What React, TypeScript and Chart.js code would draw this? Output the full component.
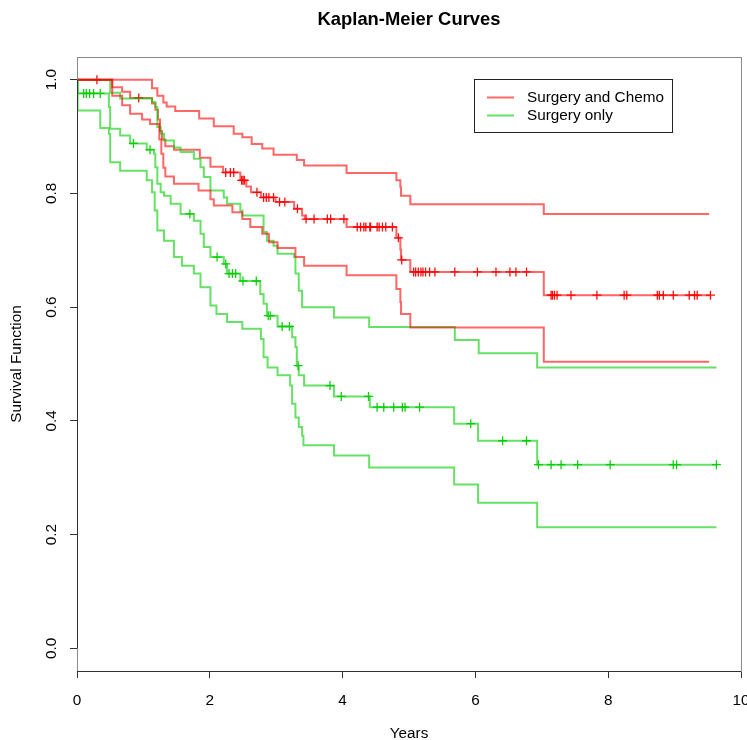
import React, { useEffect, useRef } from "react";
import { Chart, registerables } from "chart.js";

Chart.register(...registerables);

const FONT = '"Liberation Sans", Arial, Helvetica, sans-serif';

const chartTitle = "Kaplan-Meier Curves";
const xLabel = "Years";
const yLabel = "Survival Function";
const groupNames = ["Surgery and Chemo", "Surgery only"];
const xTicks = [0, 2, 4, 6, 8, 10];
const yTicks = [0, 0.2, 0.4, 0.6, 0.8, 1.0];

// ---- Surgery and Chemo ----
const chemoTimes = [0, 0.53, 0.68, 0.8, 1.13, 1.18, 1.22, 1.25, 1.28, 1.33, 1.46, 1.85, 2.01, 2.2, 2.46, 2.55, 2.62, 2.77, 2.99, 3.27, 3.39, 3.43, 4.06, 4.81, 4.87, 4.88, 5.02, 7.03];
const chemoSurv = [1, 0.987, 0.979, 0.968, 0.958, 0.947, 0.93, 0.91, 0.895, 0.883, 0.877, 0.863, 0.847, 0.837, 0.823, 0.812, 0.802, 0.793, 0.785, 0.773, 0.761, 0.755, 0.741, 0.722, 0.701, 0.683, 0.662, 0.621];
const chemoEnd = 9.54;
const chemoCensor = [0.3, 0.93, 2.24, 2.31, 2.36, 2.48, 2.5, 2.52, 2.71, 2.81, 2.85, 2.89, 2.96, 3.05, 3.13, 3.32, 3.45, 3.57, 3.77, 3.82, 4.02, 4.22, 4.27, 4.32, 4.35, 4.41, 4.42, 4.52, 4.55, 4.6, 4.65, 4.75, 4.84, 4.89, 5.07, 5.1, 5.14, 5.18, 5.21, 5.25, 5.31, 5.39, 5.69, 6.03, 6.31, 6.52, 6.61, 6.77, 7.14, 7.16, 7.19, 7.23, 7.44, 7.83, 8.24, 8.28, 8.74, 8.77, 8.83, 8.98, 9.22, 9.3, 9.34, 9.54];

const chemoUpperTimes = [0, 1.13, 1.21, 1.3, 1.35, 1.48, 1.84, 2.06, 2.36, 2.49, 2.63, 2.79, 2.96, 3.31, 3.42, 4.06, 4.81, 4.87, 4.88, 5.02, 7.03];
const chemoUpperSurv = [1, 0.985, 0.972, 0.96, 0.953, 0.945, 0.932, 0.918, 0.905, 0.899, 0.887, 0.879, 0.868, 0.859, 0.849, 0.836, 0.823, 0.811, 0.796, 0.781, 0.764];
const chemoUpperEnd = 9.52;

const chemoLowerTimes = [0, 0.53, 0.68, 0.8, 0.98, 1.1, 1.24, 1.27, 1.3, 1.33, 1.46, 1.83, 2.01, 2.06, 2.34, 2.49, 2.61, 2.79, 2.89, 3.02, 3.29, 3.42, 4.06, 4.81, 4.87, 4.88, 5.02, 7.03];
const chemoLowerSurv = [1, 0.972, 0.955, 0.94, 0.93, 0.922, 0.895, 0.87, 0.845, 0.83, 0.817, 0.805, 0.79, 0.779, 0.767, 0.755, 0.741, 0.729, 0.714, 0.704, 0.688, 0.673, 0.656, 0.632, 0.609, 0.588, 0.564, 0.504];
const chemoLowerEnd = 9.52;

// ---- Surgery only ----
const surgTimes = [0, 0.01, 0.48, 0.5, 0.65, 0.8, 1.05, 1.16, 1.18, 1.21, 1.26, 1.31, 1.41, 1.56, 1.76, 1.86, 1.91, 2.01, 2.21, 2.26, 2.46, 2.76, 2.81, 2.86, 3.02, 3.24, 3.29, 3.31, 3.34, 3.42, 3.87, 4.41, 5.68, 6.04, 6.93];
const surgSurv = [1, 0.976, 0.952, 0.914, 0.902, 0.888, 0.877, 0.87, 0.846, 0.817, 0.802, 0.796, 0.782, 0.764, 0.752, 0.729, 0.706, 0.688, 0.676, 0.659, 0.646, 0.623, 0.606, 0.585, 0.566, 0.547, 0.53, 0.497, 0.48, 0.462, 0.443, 0.424, 0.395, 0.365, 0.323];
const surgEnd = 9.63;
const surgCensor = [0.1, 0.14, 0.19, 0.25, 0.35, 0.85, 1.1, 1.7, 2.11, 2.24, 2.29, 2.34, 2.39, 2.5, 2.7, 2.88, 2.91, 3.09, 3.2, 3.33, 3.81, 3.98, 4.39, 4.52, 4.62, 4.77, 4.9, 4.94, 5.16, 5.93, 6.41, 6.77, 6.95, 7.14, 7.29, 7.54, 8.03, 8.98, 9.03, 9.63];

const surgUpperTimes = [0, 0.5, 0.65, 1.13, 1.18, 1.21, 1.26, 1.31, 1.46, 1.56, 1.76, 1.86, 1.91, 2.01, 2.21, 2.26, 2.46, 2.49, 2.81, 2.86, 2.96, 3.02, 3.27, 3.29, 3.34, 3.39, 3.87, 4.4, 5.69, 6.05, 6.93];
const surgUpperSurv = [1, 0.977, 0.967, 0.961, 0.952, 0.917, 0.905, 0.893, 0.881, 0.873, 0.861, 0.846, 0.829, 0.805, 0.793, 0.782, 0.77, 0.761, 0.732, 0.717, 0.708, 0.694, 0.688, 0.659, 0.629, 0.6, 0.582, 0.565, 0.542, 0.519, 0.494];
const surgUpperEnd = 9.63;

const surgLowerTimes = [0, 0.01, 0.35, 0.48, 0.5, 0.65, 1.05, 1.13, 1.17, 1.21, 1.31, 1.46, 1.58, 1.76, 1.86, 2.01, 2.1, 2.26, 2.49, 2.77, 2.81, 2.87, 3.02, 3.21, 3.24, 3.29, 3.34, 3.39, 3.41, 3.87, 4.4, 5.68, 6.04, 6.93];
const surgLowerSurv = [1, 0.946, 0.915, 0.905, 0.855, 0.84, 0.823, 0.802, 0.77, 0.735, 0.717, 0.688, 0.673, 0.659, 0.635, 0.603, 0.588, 0.574, 0.562, 0.544, 0.512, 0.494, 0.48, 0.462, 0.43, 0.406, 0.389, 0.374, 0.357, 0.339, 0.318, 0.288, 0.256, 0.213];
const surgLowerEnd = 9.63;

const RED_LINE = "rgba(255,0,0,0.6)";
const RED_MARK = "rgba(255,0,0,0.95)";
const GREEN_LINE = "rgba(0,205,0,0.6)";
const GREEN_MARK = "rgba(0,205,0,0.95)";
const BOX_COLOR = "#8a8a8a";
const AXIS_COLOR = "#333333";

function stepPoints(times: number[], surv: number[], end: number) {
  const pts = times.map((t, i) => ({ x: t, y: surv[i] }));
  pts.push({ x: end, y: surv[surv.length - 1] });
  return pts;
}

function survAt(times: number[], surv: number[], t: number) {
  let s = surv[0];
  for (let i = 0; i < times.length; i++) if (times[i] <= t) s = surv[i];
  return s;
}

function curve(label: string, times: number[], surv: number[], end: number, color: string) {
  return {
    label,
    data: stepPoints(times, surv, end),
    borderColor: color,
    backgroundColor: color,
    borderWidth: 2,
    stepped: "before" as const,
    pointRadius: 0,
    pointHoverRadius: 0,
    fill: false,
  };
}

function marks(label: string, times: number[], surv: number[], censor: number[], color: string) {
  return {
    label,
    data: censor.map((t) => ({ x: t, y: survAt(times, surv, t) })),
    showLine: false,
    pointStyle: "cross" as const,
    pointRadius: 4.5,
    pointHoverRadius: 4.5,
    borderColor: color,
    backgroundColor: color,
    pointBorderWidth: 1.3,
    borderWidth: 1.3,
  };
}

const rStyle = {
  id: "rStyle",
  afterDraw(chart: any) {
    const { ctx, chartArea: a, scales } = chart;
    const xs = scales.x;
    const ys = scales.y;
    ctx.save();
    // box
    ctx.lineWidth = 1;
    ctx.strokeStyle = BOX_COLOR;
    ctx.strokeRect(Math.round(a.left) + 0.5, Math.round(a.top) + 0.5, Math.round(a.right - a.left), Math.round(a.bottom - a.top));
    // axis lines
    ctx.strokeStyle = AXIS_COLOR;
    ctx.beginPath();
    const lx = Math.round(a.left) + 0.5;
    ctx.moveTo(lx, ys.getPixelForValue(yTicks[0]));
    ctx.lineTo(lx, ys.getPixelForValue(yTicks[yTicks.length - 1]));
    const by = Math.round(a.bottom) + 0.5;
    ctx.moveTo(xs.getPixelForValue(xTicks[0]), by);
    ctx.lineTo(xs.getPixelForValue(xTicks[xTicks.length - 1]), by);
    ctx.stroke();
    // title
    ctx.fillStyle = "#000";
    ctx.font = `bold 18.4px ${FONT}`;
    ctx.textAlign = "center";
    ctx.textBaseline = "middle";
    ctx.fillText(chartTitle, (a.left + a.right) / 2, 20);
    // legend
    const lx0 = 474.5, ly0 = 79.5, lw = 198, lh = 53;
    ctx.fillStyle = "#fff";
    ctx.fillRect(lx0, ly0, lw, lh);
    ctx.strokeStyle = "#222";
    ctx.strokeRect(lx0, ly0, lw, lh);
    const rows = [
      { text: groupNames[0], color: RED_LINE, y: 97.5 },
      { text: groupNames[1], color: GREEN_LINE, y: 115.5 },
    ];
    ctx.font = `15.3px ${FONT}`;
    ctx.textAlign = "left";
    for (const r of rows) {
      ctx.strokeStyle = r.color;
      ctx.lineWidth = 2;
      ctx.beginPath();
      ctx.moveTo(487, r.y);
      ctx.lineTo(514, r.y);
      ctx.stroke();
      ctx.fillStyle = "#000";
      ctx.fillText(r.text, 527, r.y);
    }
    ctx.restore();
  },
};

export default function App() {
  const ref = useRef<HTMLCanvasElement | null>(null);
  useEffect(() => {
    if (!ref.current) return;
    const chart = new Chart(ref.current, {
      type: "line",
      data: {
        datasets: [
          curve(groupNames[0] + " upper", chemoUpperTimes, chemoUpperSurv, chemoUpperEnd, RED_LINE),
          curve(groupNames[0] + " lower", chemoLowerTimes, chemoLowerSurv, chemoLowerEnd, RED_LINE),
          curve(groupNames[1] + " upper", surgUpperTimes, surgUpperSurv, surgUpperEnd, GREEN_LINE),
          curve(groupNames[1] + " lower", surgLowerTimes, surgLowerSurv, surgLowerEnd, GREEN_LINE),
          curve(groupNames[1], surgTimes, surgSurv, surgEnd, GREEN_LINE),
          marks(groupNames[1] + " censored", surgTimes, surgSurv, surgCensor, GREEN_MARK),
          curve(groupNames[0], chemoTimes, chemoSurv, chemoEnd, RED_LINE),
          marks(groupNames[0] + " censored", chemoTimes, chemoSurv, chemoCensor, RED_MARK),
        ] as any,
      },
      options: {
        animation: false,
        responsive: false,
        events: [],
        layout: { padding: { top: 57, right: 6, bottom: 0, left: 0 } },
        plugins: {
          legend: { display: false },
          title: { display: false },
          tooltip: { enabled: false },
        },
        scales: {
          x: {
            type: "linear",
            min: 0,
            max: 10,
            afterBuildTicks: (s: any) => {
              s.ticks = xTicks.map((v) => ({ value: v }));
            },
            afterFit: (s: any) => {
              s.height = 69;
              s.paddingLeft = 0;
              s.paddingRight = 0;
            },
            border: { display: false },
            grid: { drawOnChartArea: false, drawTicks: true, tickLength: 7, tickColor: AXIS_COLOR, tickWidth: 1 },
            ticks: {
              color: "#000",
              font: { family: FONT, size: 15.3 },
              padding: 14,
              maxRotation: 0,
              minRotation: 0,
              callback: (v: any) => String(v),
            },
            title: {
              display: true,
              text: xLabel,
              color: "#000",
              font: { family: FONT, size: 15.3, lineHeight: 0.75 },
              padding: 0,
            },
          },
          y: {
            type: "linear",
            min: -0.04,
            max: 1.04,
            afterBuildTicks: (s: any) => {
              s.ticks = yTicks.map((v) => ({ value: v }));
            },
            afterFit: (s: any) => {
              s.width = 77;
              s.paddingTop = 0;
              s.paddingBottom = 0;
            },
            border: { display: false },
            grid: { drawOnChartArea: false, drawTicks: true, tickLength: 7, tickColor: AXIS_COLOR, tickWidth: 1 },
            ticks: {
              color: "#000",
              font: { family: FONT, size: 15.3 },
              padding: 8,
              minRotation: 90,
              maxRotation: 90,
              crossAlign: "center",
              callback: (v: any) => Number(v).toFixed(1),
            },
            title: {
              display: true,
              text: yLabel,
              color: "#000",
              font: { family: FONT, size: 15.3, lineHeight: 1 },
              padding: { top: 9, bottom: 0 },
            },
          },
        },
      },
      plugins: [rStyle],
    });
    return () => chart.destroy();
  }, []);
  return (
    <div style={{ position: "fixed", left: 0, top: 0, width: 747, height: 740, background: "#fff" }}>
      <canvas ref={ref} width={747} height={740} style={{ display: "block" }} />
    </div>
  );
}
